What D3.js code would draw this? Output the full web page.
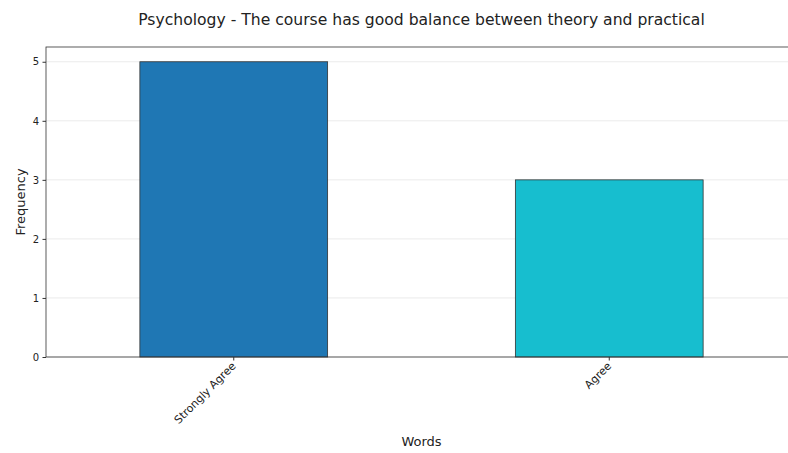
<!DOCTYPE html>
<html><head><meta charset="utf-8">
<script src="https://cdn.jsdelivr.net/npm/d3@7/dist/d3.min.js"></script>
<style>body{margin:0;background:#fff;} svg{display:block;font-family:"DejaVu Sans",sans-serif;}</style>
</head><body>
<svg id="c" width="788" height="453"></svg>
<script>
const categories = ["Strongly Agree", "Agree"];
const values = [5, 3];
const colors = ["#1f77b4", "#17becf"];
const yTicks = [0, 1, 2, 3, 4, 5];
const title = "Psychology - The course has good balance between theory and practical";

const svg = d3.select("#c");
const L = 46, R = 797, T = 47, B = 357;
const x = d3.scaleBand().domain(categories).range([L, R]).paddingInner(0.5).paddingOuter(0.25);
const y = d3.scaleLinear().domain([0, 5.25]).range([B, T]);

// grid
svg.append("g").selectAll("line").data(yTicks).join("line")
  .attr("x1", L).attr("x2", R).attr("y1", d => y(d)).attr("y2", d => y(d))
  .attr("stroke", "#e6e6e6").attr("stroke-width", 0.8);

// bars
svg.append("g").selectAll("rect").data(categories).join("rect")
  .attr("x", d => x(d)).attr("width", x.bandwidth())
  .attr("y", (d, i) => y(values[i])).attr("height", (d, i) => y(0) - y(values[i]))
  .attr("fill", (d, i) => colors[i]).attr("stroke", "#333").attr("stroke-width", 0.8);

// frame
svg.append("rect").attr("x", L).attr("y", T).attr("width", R - L).attr("height", B - T)
  .attr("fill", "none").attr("stroke", "#333").attr("stroke-width", 0.8);

// y axis
const ya = svg.append("g").attr("transform", `translate(${L},0)`)
  .call(d3.axisLeft(y).tickValues(yTicks).tickFormat(d3.format("d")).tickSize(3.5).tickPadding(3.5));
ya.select(".domain").remove();
ya.selectAll("line").attr("stroke", "#333");
ya.selectAll("text").attr("font-size", 10).attr("fill", "#222").attr("font-family", "DejaVu Sans");

// x axis
const xa = svg.append("g").attr("transform", `translate(0,${B})`)
  .call(d3.axisBottom(x).tickSize(3.5).tickPadding(3));
xa.select(".domain").remove();
xa.selectAll("line").attr("stroke", "#333");
xa.selectAll("text").attr("font-size", 11).attr("fill", "#222").attr("font-family", "DejaVu Sans")
  .attr("text-anchor", "end").attr("dy", "0.35em")
  .attr("transform", "translate(0,7) rotate(-45)").attr("x", 0).attr("y", 0);

// labels
svg.append("text").attr("x", (L + R) / 2).attr("y", 25).attr("text-anchor", "middle")
  .attr("font-size", 15.6).attr("fill", "#222").text(title);
svg.append("text").attr("x", (L + R) / 2).attr("y", 446).attr("text-anchor", "middle")
  .attr("font-size", 13).attr("fill", "#222").text("Words");
svg.append("text").attr("transform", `translate(25,${(T + B) / 2}) rotate(-90)`).attr("text-anchor", "middle")
  .attr("font-size", 13).attr("fill", "#222").text("Frequency");
</script>
</body></html>
